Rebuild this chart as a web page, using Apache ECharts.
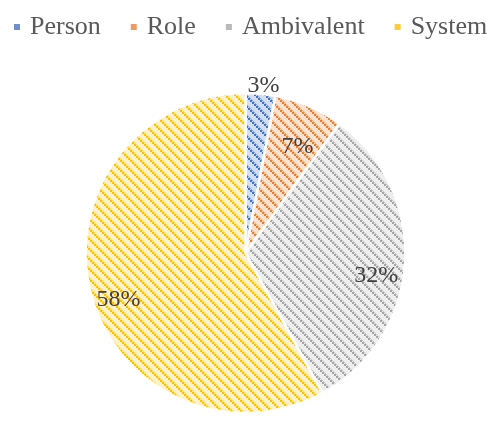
<!DOCTYPE html>
<html>
<head>
<meta charset="utf-8">
<script src="https://cdn.jsdelivr.net/npm/echarts@6/dist/echarts.min.js"></script>
<style>
  html, body { margin: 0; padding: 0; background: #fff; }
  #chart { width: 491px; height: 421px; }
</style>
</head>
<body>
<div id="chart"></div>
<script>
var categories = ['Person', 'Role', 'Ambivalent', 'System'];
var shares = [3, 7, 32, 58];

// hatch colours: stripe / background / legend swatch
var stripe = ['#4472C4', '#ED7D31', '#A5A5A5', '#FFC000'];
var paper = ['#D3DEF2', '#FBE2D1', '#EEEEEE', '#FFF1CC'];
var swatch = ['#6F90D0', '#F09A60', '#B9B9B9', '#FFCC33'];

var TILE = 10;

function mix(a, b) {
  var pa = parseInt(a.slice(1), 16), pb = parseInt(b.slice(1), 16);
  var r = (((pa >> 16) & 255) + ((pb >> 16) & 255)) >> 1;
  var g = (((pa >> 8) & 255) + ((pb >> 8) & 255)) >> 1;
  var bl = ((pa & 255) + (pb & 255)) >> 1;
  return 'rgb(' + r + ',' + g + ',' + bl + ')';
}

// square tile: dotted "\" diagonal, repeated as fill
function hatch(dark, light) {
  var c = document.createElement('canvas');
  c.width = TILE;
  c.height = TILE;
  var g = c.getContext('2d');
  g.fillStyle = light;
  g.fillRect(0, 0, TILE, TILE);
  g.fillStyle = mix(dark, light);
  for (var i = 0; i < TILE; i++) {
    g.fillRect((i + 2) % TILE, i, 1, 1);
  }
  g.fillStyle = dark;
  for (var k = 0; k < TILE / 2; k++) {
    g.fillRect(2 * k, 2 * k, 2, 2);
  }
  return c;
}

var pieData = categories.map(function (name, i) {
  return {
    name: name,
    value: shares[i],
    itemStyle: { color: { image: hatch(stripe[i], paper[i]), repeat: 'repeat' } }
  };
});

// transparent ring only used to place the percentage labels
var labelData = categories.map(function (name, i) {
  var item = { name: name, value: shares[i] };
  if (i === 0) {
    item.label = { position: 'outside', offset: [-18, -8] };
  }
  return item;
});

var legendData = categories.map(function (name, i) {
  return { name: name, itemStyle: { color: swatch[i] } };
});

var myChart = echarts.init(document.getElementById('chart'));

var option = {
  animation: false,
  legend: {
    top: 9,
    left: 7,
    width: 485,
    icon: 'rect',
    itemWidth: 8,
    itemHeight: 8,
    itemGap: 28,
    textStyle: {
      fontFamily: 'Liberation Serif',
      fontSize: 26,
      color: '#595959',
      padding: [0, 0, 0, 4]
    },
    data: legendData
  },
  series: [
    {
      name: 'share',
      type: 'pie',
      center: [245.5, 253],
      radius: [0, 160],
      startAngle: 90,
      clockwise: true,
      silent: true,
      label: { show: false },
      labelLine: { show: false },
      itemStyle: { borderColor: '#fff', borderWidth: 2.5 },
      data: pieData
    },
    {
      name: 'labels',
      type: 'pie',
      center: [245.5, 253],
      radius: [96, 160],
      startAngle: 90,
      clockwise: true,
      silent: true,
      avoidLabelOverlap: false,
      itemStyle: { color: 'rgba(0,0,0,0)', borderWidth: 0 },
      label: {
        show: true,
        position: 'inside',
        offset: [0, 14],
        formatter: '{c}%',
        fontFamily: 'Liberation Serif',
        fontSize: 24,
        color: '#404040'
      },
      labelLine: { show: false, length: 0, length2: 0 },
      data: labelData
    }
  ]
};

myChart.setOption(option);
</script>
</body>
</html>
